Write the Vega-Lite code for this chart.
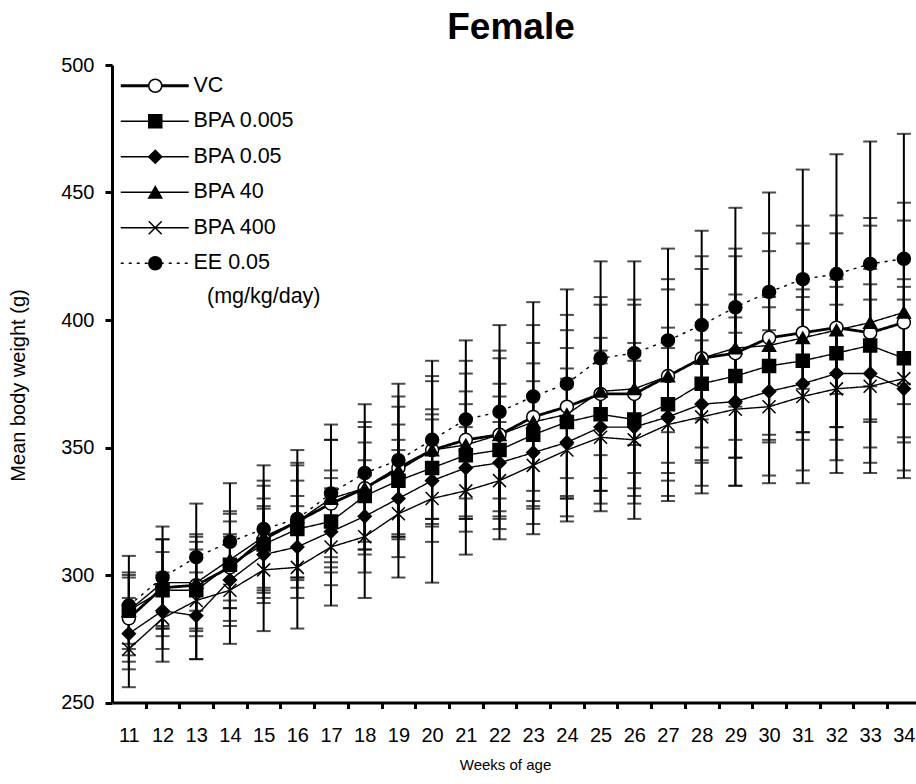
{
"$schema": "https://vega.github.io/schema/vega-lite/v6.json",
"width": 804, "height": 637.5,
"autosize": {"type": "none"},
"padding": {"left": 112, "top": 65, "right": 0, "bottom": 81.5},
"title": {"text": "Female", "fontSize": 37, "fontWeight": "bold", "anchor": "middle", "frame": "group", "offset": 8, "dx": -3, "color": "black"},
"data": {"values": [
{"g":"VC","w":11,"m":283,"sd":17},{"g":"VC","w":12,"m":295,"sd":19},{"g":"VC","w":13,"m":296,"sd":20},{"g":"VC","w":14,"m":303,"sd":21},{"g":"VC","w":15,"m":314,"sd":23},{"g":"VC","w":16,"m":321,"sd":23},{"g":"VC","w":17,"m":328,"sd":25},{"g":"VC","w":18,"m":334,"sd":26},{"g":"VC","w":19,"m":342,"sd":28},{"g":"VC","w":20,"m":349,"sd":29},{"g":"VC","w":21,"m":353,"sd":31},{"g":"VC","w":22,"m":355,"sd":33},{"g":"VC","w":23,"m":362,"sd":36},{"g":"VC","w":24,"m":366,"sd":36},{"g":"VC","w":25,"m":371,"sd":38},{"g":"VC","w":26,"m":371,"sd":37},{"g":"VC","w":27,"m":378,"sd":38},{"g":"VC","w":28,"m":385,"sd":40},{"g":"VC","w":29,"m":387,"sd":41},{"g":"VC","w":30,"m":393,"sd":41},{"g":"VC","w":31,"m":395,"sd":42},{"g":"VC","w":32,"m":397,"sd":44},{"g":"VC","w":33,"m":395,"sd":45},{"g":"VC","w":34,"m":399,"sd":47},
{"g":"BPA 0.005","w":11,"m":286,"sd":13},{"g":"BPA 0.005","w":12,"m":294,"sd":15},{"g":"BPA 0.005","w":13,"m":294,"sd":16},{"g":"BPA 0.005","w":14,"m":304,"sd":17},{"g":"BPA 0.005","w":15,"m":312,"sd":18},{"g":"BPA 0.005","w":16,"m":318,"sd":19},{"g":"BPA 0.005","w":17,"m":321,"sd":20},{"g":"BPA 0.005","w":18,"m":331,"sd":21},{"g":"BPA 0.005","w":19,"m":337,"sd":22},{"g":"BPA 0.005","w":20,"m":342,"sd":23},{"g":"BPA 0.005","w":21,"m":347,"sd":25},{"g":"BPA 0.005","w":22,"m":349,"sd":26},{"g":"BPA 0.005","w":23,"m":355,"sd":28},{"g":"BPA 0.005","w":24,"m":360,"sd":29},{"g":"BPA 0.005","w":25,"m":363,"sd":30},{"g":"BPA 0.005","w":26,"m":361,"sd":30},{"g":"BPA 0.005","w":27,"m":367,"sd":30},{"g":"BPA 0.005","w":28,"m":375,"sd":31},{"g":"BPA 0.005","w":29,"m":378,"sd":32},{"g":"BPA 0.005","w":30,"m":382,"sd":27},{"g":"BPA 0.005","w":31,"m":384,"sd":28},{"g":"BPA 0.005","w":32,"m":387,"sd":29},{"g":"BPA 0.005","w":33,"m":390,"sd":30},{"g":"BPA 0.005","w":34,"m":385,"sd":31},
{"g":"BPA 0.05","w":11,"m":277,"sd":14},{"g":"BPA 0.05","w":12,"m":286,"sd":15},{"g":"BPA 0.05","w":13,"m":284,"sd":17},{"g":"BPA 0.05","w":14,"m":298,"sd":18},{"g":"BPA 0.05","w":15,"m":308,"sd":19},{"g":"BPA 0.05","w":16,"m":311,"sd":20},{"g":"BPA 0.05","w":17,"m":317,"sd":21},{"g":"BPA 0.05","w":18,"m":323,"sd":22},{"g":"BPA 0.05","w":19,"m":330,"sd":23},{"g":"BPA 0.05","w":20,"m":337,"sd":24},{"g":"BPA 0.05","w":21,"m":342,"sd":25},{"g":"BPA 0.05","w":22,"m":344,"sd":26},{"g":"BPA 0.05","w":23,"m":348,"sd":28},{"g":"BPA 0.05","w":24,"m":352,"sd":29},{"g":"BPA 0.05","w":25,"m":358,"sd":30},{"g":"BPA 0.05","w":26,"m":358,"sd":30},{"g":"BPA 0.05","w":27,"m":362,"sd":31},{"g":"BPA 0.05","w":28,"m":367,"sd":32},{"g":"BPA 0.05","w":29,"m":368,"sd":33},{"g":"BPA 0.05","w":30,"m":372,"sd":33},{"g":"BPA 0.05","w":31,"m":375,"sd":34},{"g":"BPA 0.05","w":32,"m":379,"sd":34},{"g":"BPA 0.05","w":33,"m":379,"sd":35},{"g":"BPA 0.05","w":34,"m":373,"sd":35},
{"g":"BPA 40","w":11,"m":286,"sd":15},{"g":"BPA 40","w":12,"m":297,"sd":17},{"g":"BPA 40","w":13,"m":297,"sd":18},{"g":"BPA 40","w":14,"m":306,"sd":19},{"g":"BPA 40","w":15,"m":315,"sd":20},{"g":"BPA 40","w":16,"m":321,"sd":22},{"g":"BPA 40","w":17,"m":330,"sd":23},{"g":"BPA 40","w":18,"m":334,"sd":24},{"g":"BPA 40","w":19,"m":341,"sd":25},{"g":"BPA 40","w":20,"m":349,"sd":27},{"g":"BPA 40","w":21,"m":351,"sd":28},{"g":"BPA 40","w":22,"m":355,"sd":30},{"g":"BPA 40","w":23,"m":360,"sd":31},{"g":"BPA 40","w":24,"m":363,"sd":33},{"g":"BPA 40","w":25,"m":372,"sd":34},{"g":"BPA 40","w":26,"m":373,"sd":33},{"g":"BPA 40","w":27,"m":378,"sd":34},{"g":"BPA 40","w":28,"m":385,"sd":35},{"g":"BPA 40","w":29,"m":389,"sd":36},{"g":"BPA 40","w":30,"m":390,"sd":37},{"g":"BPA 40","w":31,"m":393,"sd":37},{"g":"BPA 40","w":32,"m":396,"sd":38},{"g":"BPA 40","w":33,"m":399,"sd":38},{"g":"BPA 40","w":34,"m":403,"sd":36},
{"g":"BPA 400","w":11,"m":271,"sd":15},{"g":"BPA 400","w":12,"m":283,"sd":17},{"g":"BPA 400","w":13,"m":290,"sd":23},{"g":"BPA 400","w":14,"m":294,"sd":21},{"g":"BPA 400","w":15,"m":302,"sd":24},{"g":"BPA 400","w":16,"m":303,"sd":24},{"g":"BPA 400","w":17,"m":311,"sd":23},{"g":"BPA 400","w":18,"m":315,"sd":24},{"g":"BPA 400","w":19,"m":324,"sd":25},{"g":"BPA 400","w":20,"m":330,"sd":33},{"g":"BPA 400","w":21,"m":333,"sd":25},{"g":"BPA 400","w":22,"m":337,"sd":23},{"g":"BPA 400","w":23,"m":343,"sd":27},{"g":"BPA 400","w":24,"m":349,"sd":28},{"g":"BPA 400","w":25,"m":354,"sd":29},{"g":"BPA 400","w":26,"m":353,"sd":31},{"g":"BPA 400","w":27,"m":359,"sd":30},{"g":"BPA 400","w":28,"m":362,"sd":30},{"g":"BPA 400","w":29,"m":365,"sd":30},{"g":"BPA 400","w":30,"m":366,"sd":30},{"g":"BPA 400","w":31,"m":370,"sd":34},{"g":"BPA 400","w":32,"m":373,"sd":33},{"g":"BPA 400","w":33,"m":374,"sd":34},{"g":"BPA 400","w":34,"m":377,"sd":36},
{"g":"EE 0.05","w":11,"m":288,"sd":19.5},{"g":"EE 0.05","w":12,"m":299,"sd":20},{"g":"EE 0.05","w":13,"m":307,"sd":21},{"g":"EE 0.05","w":14,"m":313,"sd":23},{"g":"EE 0.05","w":15,"m":318,"sd":25},{"g":"EE 0.05","w":16,"m":322,"sd":27},{"g":"EE 0.05","w":17,"m":332,"sd":27},{"g":"EE 0.05","w":18,"m":340,"sd":27},{"g":"EE 0.05","w":19,"m":345,"sd":30},{"g":"EE 0.05","w":20,"m":353,"sd":31},{"g":"EE 0.05","w":21,"m":361,"sd":31},{"g":"EE 0.05","w":22,"m":364,"sd":34},{"g":"EE 0.05","w":23,"m":370,"sd":37},{"g":"EE 0.05","w":24,"m":375,"sd":37},{"g":"EE 0.05","w":25,"m":385,"sd":38},{"g":"EE 0.05","w":26,"m":387,"sd":36},{"g":"EE 0.05","w":27,"m":392,"sd":36},{"g":"EE 0.05","w":28,"m":398,"sd":37},{"g":"EE 0.05","w":29,"m":405,"sd":39},{"g":"EE 0.05","w":30,"m":411,"sd":39},{"g":"EE 0.05","w":31,"m":416,"sd":43},{"g":"EE 0.05","w":32,"m":418,"sd":47},{"g":"EE 0.05","w":33,"m":422,"sd":48},{"g":"EE 0.05","w":34,"m":424,"sd":49}
]},
"encoding": {
  "x": {"field": "w", "type": "quantitative",
    "scale": {"domain": [10.5, 34.36], "nice": false, "zero": false},
    "axis": {"values": [11,12,13,14,15,16,17,18,19,20,21,22,23,24,25,26,27,28,29,30,31,32,33,34],
      "tickOffset": 16.85, "labelOffset": -16.85, "tickSize": 6, "labelPadding": 17, "labelFontSize": 20,
      "labelFlush": false, "labelOverlap": false, "title": "Weeks of age", "titleFontSize": 15,
      "titleX": 393, "titleY": 62, "titleBaseline": "middle"}},
  "y": {"field": "m", "type": "quantitative",
    "scale": {"domain": [250, 500], "nice": false, "zero": false},
    "axis": {"values": [250,300,350,400,450,500], "tickSize": 7, "labelPadding": 11, "labelFontSize": 20,
      "title": "Mean body weight (g)", "titleFontSize": 20, "titleX": -94, "titleY": 320,
      "titleBaseline": "middle", "titleAngle": -90}}
},
"layer": [
  {"mark": {"type": "errorbar", "ticks": {"size": 14}, "thickness": 2, "color": "black"},
   "encoding": {"yError": {"field": "sd"}}},
  {"transform": [{"filter": "datum.g !== 'VC'"}],
   "mark": {"type": "line", "color": "black", "strokeWidth": 1.4},
   "encoding": {"strokeDash": {"field": "g", "type": "nominal",
     "scale": {"domain": ["VC","BPA 0.005","BPA 0.05","BPA 40","BPA 400","EE 0.05"], "range": [[1,0],[1,0],[1,0],[1,0],[1,0],[3,5]]},
     "legend": {"orient": "top-left", "offset": 10, "padding": 0, "zindex": 1,
       "title": "(mg/kg/day)", "titleOrient": "bottom", "titleFontSize": 21.5, "titleFontWeight": "normal", "titlePadding": 12,
       "symbolType": "stroke", "symbolSize": 4624, "symbolOffset": 22, "symbolStrokeColor": "black",
       "labelOffset": 28, "labelFontSize": 21.5, "rowPadding": 12.5,
       "encode": {"symbols": {"update": {"strokeWidth": {"signal": "datum.value === 'VC' ? 2.8 : 1.4"}, "stroke": {"value": "black"}}},
                  "title": {"update": {"dx": {"value": 85}}}}}}}},
  {"transform": [{"filter": "datum.g === 'VC'"}],
   "mark": {"type": "line", "color": "black", "strokeWidth": 2.8},
   "encoding": {"strokeDash": {"field": "g", "type": "nominal",
     "scale": {"domain": ["VC","BPA 0.005","BPA 0.05","BPA 40","BPA 400","EE 0.05"], "range": [[1,0],[1,0],[1,0],[1,0],[1,0],[3,5]]}}}},
  {"mark": {"type": "point", "filled": true, "size": 169, "stroke": "black", "strokeWidth": 1.5, "opacity": 1},
   "encoding": {
     "shape": {"field": "g", "type": "nominal",
       "scale": {"domain": ["VC","BPA 0.005","BPA 0.05","BPA 40","BPA 400","EE 0.05"],
                 "range": ["circle","square","diamond","triangle-up","M-1,-1L1,1M-1,1L1,-1","circle"]},
       "legend": {"orient": "none", "legendX": 32.5, "legendY": 10, "padding": 0, "zindex": 2, "title": null,
         "symbolSize": 169, "symbolOffset": 0, "labelExpr": "''", "labelFontSize": 21.5, "labelOffset": 0, "rowPadding": 12.5,
         "encode": {"symbols": {"update": {"fill": {"signal": "datum.value === 'VC' ? 'white' : datum.value === 'BPA 400' ? 'transparent' : 'black'"}, "stroke": {"value": "black"}, "strokeWidth": {"value": 1.5}, "opacity": {"value": 1}}}}}},
     "fill": {"field": "g", "type": "nominal",
       "scale": {"domain": ["VC","BPA 0.005","BPA 0.05","BPA 40","BPA 400","EE 0.05"],
                 "range": ["white","black","black","black","transparent","black"]},
       "legend": null}}}
],
"config": {
  "font": "Liberation Sans",
  "view": {"stroke": null},
  "axis": {"domainColor": "black", "domainWidth": 3, "tickColor": "black", "tickWidth": 3, "labelColor": "black", "titleColor": "black", "grid": false, "titleFontWeight": "normal"},
  "legend": {"labelColor": "black", "titleColor": "black"}
}
}
